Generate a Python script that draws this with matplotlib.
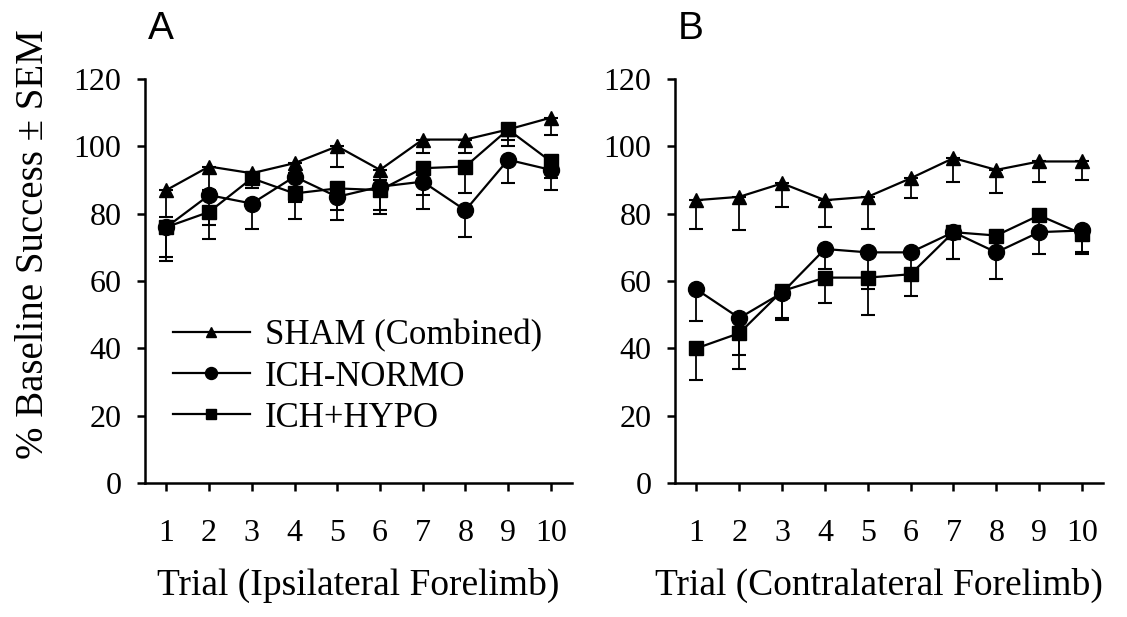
import matplotlib
matplotlib.use("Agg")
import matplotlib.pyplot as plt
import numpy as np

# Trials 1..10
trials = np.arange(1, 11)

# Panel A: ipsilateral forelimb (% baseline success)
sham_a = [87, 94, 92, 95, 100, 93, 102, 102, 105, 108.5]
normo_a = [76, 85.5, 83, 91, 85, 88, 89.5, 81, 96, 93]
hypo_a = [76, 80.5, 90.5, 86, 87.5, 87, 93.5, 94, 105, 95.5]
sham_a_err = [8, 7, 3, 3, 6, 3, 4, 4, 3, 5]
normo_a_err = [10, 13, 7.5, 12.5, 7, 7, 8, 8, 7, 6]
hypo_a_err = [9, 4, 3, 2.5, 6.5, 7, 8, 8, 5, 5]

# Panel B: contralateral forelimb
sham_b = [84, 85, 89, 84, 85, 90.5, 96.5, 93, 95.5, 95.5]
normo_b = [57.5, 49, 56.5, 69.5, 68.5, 68.5, 74.5, 68.5, 74.5, 75]
hypo_b = [40, 44.5, 57, 61, 61, 62, 74.5, 73.5, 79.5, 74]
sham_b_err = [8.5, 10, 7, 8, 9.5, 6, 7, 7, 6, 5.5]
normo_b_err = [9.5, 11, 8, 6, 11, 5, 8, 8, 6.5, 6.5]
hypo_b_err = [9.5, 10.5, 8, 7.5, 11, 6.5, 8, 4, 5, 6]

labels = ["SHAM (Combined)", "ICH-NORMO", "ICH+HYPO"]
markers = ["^", "o", "s"]
msizes = [10, 11.5, 10.5]

plt.rcParams["font.family"] = ["Liberation Serif", "DejaVu Serif"]

fig = plt.figure(figsize=(11.27, 6.17), dpi=100)
ax_a = fig.add_axes([0.1287, 0.2172, 0.379, 0.6548])
ax_b = fig.add_axes([0.599, 0.2172, 0.380, 0.6548])

panels = [
    (ax_a, [sham_a, normo_a, hypo_a], [sham_a_err, normo_a_err, hypo_a_err],
     "Trial (Ipsilateral Forelimb)", "A"),
    (ax_b, [sham_b, normo_b, hypo_b], [sham_b_err, normo_b_err, hypo_b_err],
     "Trial (Contralateral Forelimb)", "B"),
]

for ax, series, errs, xlabel, tag in panels:
    handles = []
    for vals, err, lab, mk, ms in zip(series, errs, labels, markers, msizes):
        err = np.asarray(err, dtype=float)
        # one-sided (downward) SEM bars
        ax.errorbar(trials, vals, yerr=[err, np.zeros_like(err)], fmt="none",
                    ecolor="black", elinewidth=1.3, capsize=5, capthick=1.5,
                    zorder=2)
        h, = ax.plot(trials, vals, marker=mk, ms=ms, color="black",
                     lw=1.6, label=lab, zorder=3)
        handles.append(h)

    ax.set_xlim(0.5, 10.5)
    ax.set_ylim(0, 120)
    ax.set_xticks(trials)
    ax.set_yticks(range(0, 121, 20))
    for s in ["top", "right"]:
        ax.spines[s].set_visible(False)
    for s in ["left", "bottom"]:
        ax.spines[s].set_linewidth(1.8)
    ax.tick_params(axis="both", direction="out", width=1.8, length=6,
                   labelsize=23)
    ax.tick_params(axis="x", pad=20)
    ax.tick_params(axis="y", pad=11)
    ax.set_xlabel(xlabel, fontsize=27, labelpad=14)
    ax.text(0.036, 1.124, tag, transform=ax.transAxes,
            fontsize=28, family="Liberation Sans", ha="center", va="center")

ax_b.xaxis.label.set_x(0.475)

ax_a.set_ylabel("% Baseline Success ± SEM", fontsize=28, va="center")
ax_a.yaxis.set_label_coords(-0.262, 0.59)

ax_a.legend(handles=handles, loc="upper left", bbox_to_anchor=(0.066, 0.405),
            frameon=False, fontsize=25, markerscale=0.75, handlelength=2.2,
            labelspacing=0.23, handletextpad=0.45, borderaxespad=0.0,
            borderpad=0.0)

fig.savefig("out.png", dpi=100)
